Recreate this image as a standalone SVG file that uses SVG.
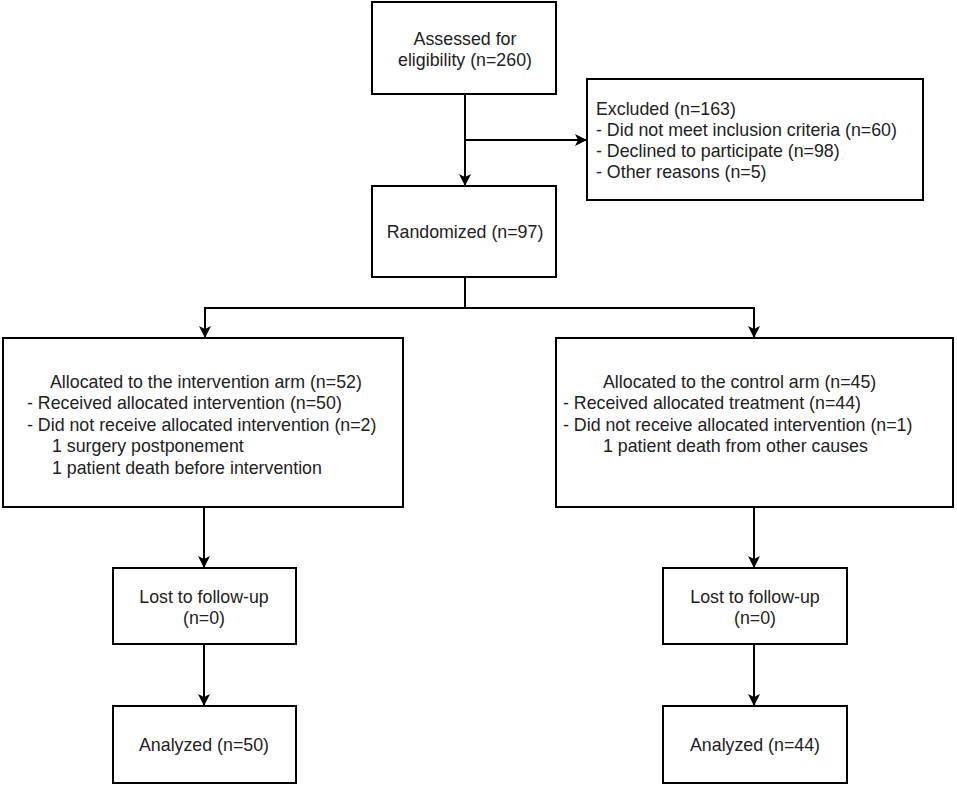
<svg xmlns="http://www.w3.org/2000/svg" width="957" height="786" viewBox="0 0 957 786">
<defs>
<marker id="ah" markerWidth="12" markerHeight="12" viewBox="0 0 12 12" refX="11" refY="6" orient="auto" markerUnits="userSpaceOnUse">
<path d="M0,0 L12,6 L0,12 L3,6 Z" fill="#000"/>
</marker>
<style>
.box{fill:#fff;stroke:#000;stroke-width:2}
.t{font-family:"Liberation Sans",Arial,sans-serif;font-size:17.8px;fill:#222}
.c{text-anchor:middle}
.ln{fill:none;stroke:#000;stroke-width:2}
</style>
</defs>
<rect width="957" height="786" fill="#fff"/>
<g id="connectors">
<path class="ln" d="M465,94 V185" marker-end="url(#ah)"/>
<path class="ln" d="M465,140 H586" marker-end="url(#ah)"/>
<path class="ln" d="M465,277 V308 H205 V337" marker-end="url(#ah)"/>
<path class="ln" d="M465,308 H754 V337" marker-end="url(#ah)"/>
<path class="ln" d="M204,507 V567" marker-end="url(#ah)"/>
<path class="ln" d="M204,644 V705" marker-end="url(#ah)"/>
<path class="ln" d="M754,507 V567" marker-end="url(#ah)"/>
<path class="ln" d="M754,644 V705" marker-end="url(#ah)"/>
</g>
<g id="assessed">
<rect class="box" x="372" y="2" width="184" height="92"/>
<text class="t c" x="465" y="45">Assessed for</text>
<text class="t c" x="465" y="66">eligibility (n=260)</text>
</g>
<g id="excluded">
<rect class="box" x="587" y="79" width="336" height="121"/>
<text class="t" x="596" y="115">Excluded (n=163)</text>
<text class="t" x="596" y="136">- Did not meet inclusion criteria (n=60)</text>
<text class="t" x="596" y="157">- Declined to participate (n=98)</text>
<text class="t" x="596" y="178">- Other reasons (n=5)</text>
</g>
<g id="randomized">
<rect class="box" x="372" y="186" width="184" height="91"/>
<text class="t c" x="465" y="238">Randomized (n=97)</text>
</g>
<g id="intervention">
<rect class="box" x="3" y="338" width="400" height="169"/>
<text class="t" x="50" y="388">Allocated to the intervention arm (n=52)</text>
<text class="t" x="27" y="409">- Received allocated intervention (n=50)</text>
<text class="t" x="27" y="431">- Did not receive allocated intervention (n=2)</text>
<text class="t" x="52" y="452">1 surgery postponement</text>
<text class="t" x="52" y="474">1 patient death before intervention</text>
</g>
<g id="control">
<rect class="box" x="556" y="338" width="397" height="169"/>
<text class="t" x="603" y="388">Allocated to the control arm (n=45)</text>
<text class="t" x="563" y="409">- Received allocated treatment (n=44)</text>
<text class="t" x="563" y="431">- Did not receive allocated intervention (n=1)</text>
<text class="t" x="603" y="452">1 patient death from other causes</text>
</g>
<g id="lost-left">
<rect class="box" x="113" y="568" width="183" height="76"/>
<text class="t c" x="204" y="603">Lost to follow-up</text>
<text class="t c" x="204" y="624">(n=0)</text>
</g>
<g id="analyzed-left">
<rect class="box" x="113" y="706" width="183" height="77"/>
<text class="t c" x="204" y="751">Analyzed (n=50)</text>
</g>
<g id="lost-right">
<rect class="box" x="663" y="568" width="184" height="76"/>
<text class="t c" x="755" y="603">Lost to follow-up</text>
<text class="t c" x="755" y="624">(n=0)</text>
</g>
<g id="analyzed-right">
<rect class="box" x="663" y="706" width="184" height="77"/>
<text class="t c" x="755" y="751">Analyzed (n=44)</text>
</g>
</svg>
